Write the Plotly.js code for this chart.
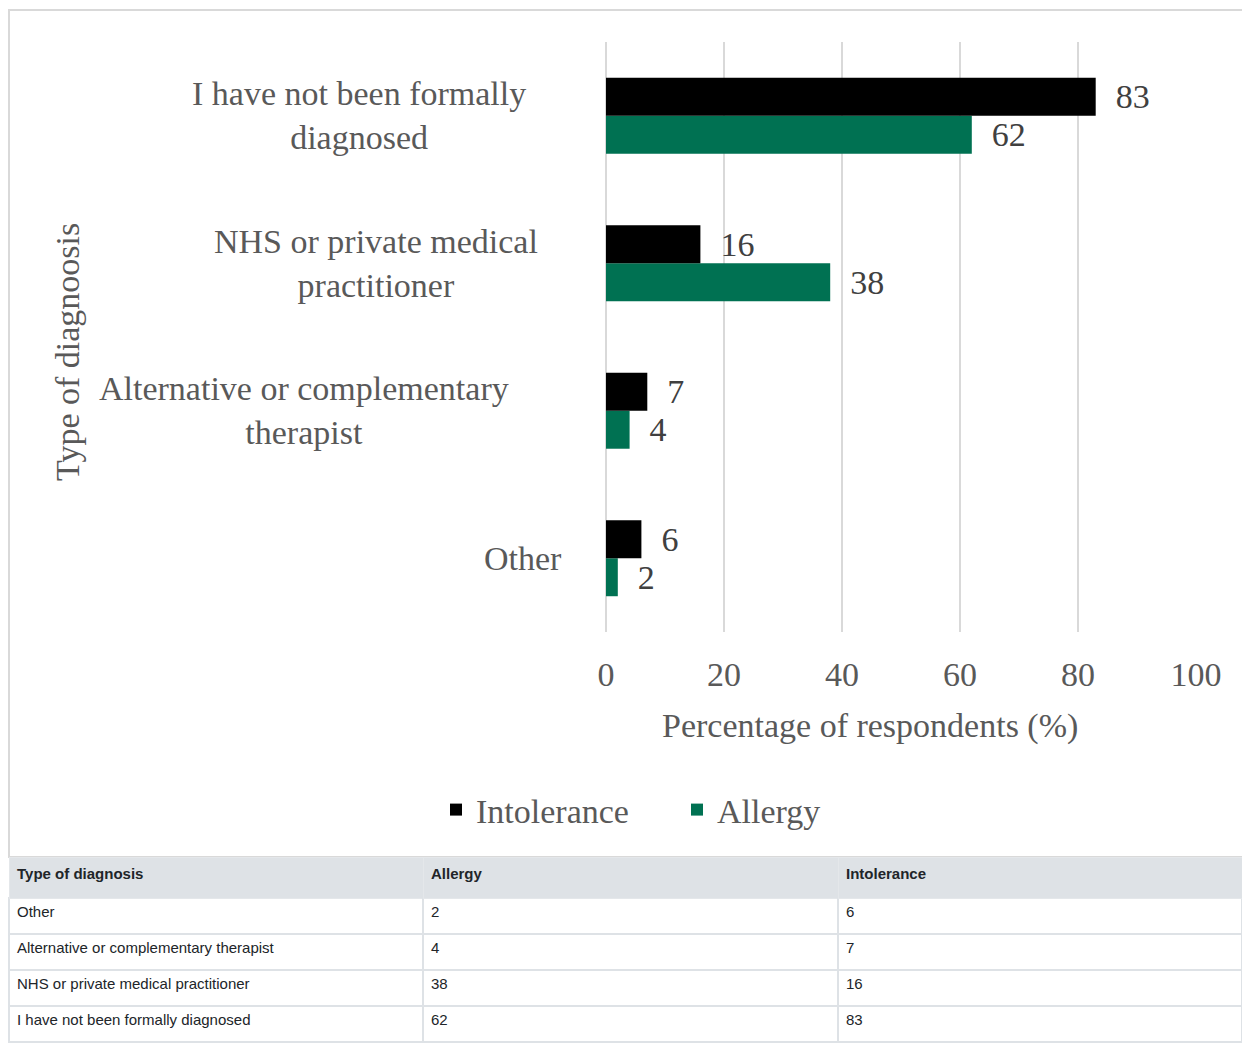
<!DOCTYPE html>
<html>
<head>
<meta charset="utf-8">
<script src="https://cdn.plot.ly/plotly-3.0.1.min.js"></script>
<style>
  html, body { margin: 0; padding: 0; background: #ffffff; }
  #chart { width: 1242px; height: 1043px; }
</style>
</head>
<body>
<div id="chart"></div>
<script>
// ---- data ----
const categories = [
  'Other',
  'Alternative or complementary therapist',
  'NHS or private medical practitioner',
  'I have not been formally diagnosed'
];
const categoryLabels = [
  'Other',
  'Alternative or complementary<br>therapist',
  'NHS or private medical<br>practitioner',
  'I have not been formally<br>diagnosed'
];
const allergy = [2, 4, 38, 62];
const intolerance = [6, 7, 16, 83];
const xTickValues = [0, 20, 40, 60, 80, 100];
const tableHeaders = ['Type of diagnosis', 'Allergy', 'Intolerance'];
const yAxisTitle = 'Type of diagnoosis';
const xAxisTitle = 'Percentage of respondents (%)';

// ---- layout helpers ----
const W = 1242, H = 1043;
const px = v => v / W;
const py = v => 1 - v / H;
const SERIF = '"Liberation Serif", "Times New Roman", serif';
const SANS = '"Liberation Sans", Arial, sans-serif';
const FS = 34;
const labelRight = [564, 511, 540, 528];

const traces = [
  {
    type: 'bar', orientation: 'h', name: 'Allergy',
    y: categories, x: allergy,
    marker: { color: '#007152' },
    texttemplate: '\u00a0\u00a0%{x}', textposition: 'outside',
    textfont: { family: SERIF, size: FS, color: '#404040' },
    constraintext: 'none', cliponaxis: false, legendrank: 2,
    hoverinfo: 'x+y'
  },
  {
    type: 'bar', orientation: 'h', name: 'Intolerance',
    y: categories, x: intolerance,
    marker: { color: '#000000' },
    texttemplate: '\u00a0\u00a0%{x}', textposition: 'outside',
    textfont: { family: SERIF, size: FS, color: '#404040' },
    constraintext: 'none', cliponaxis: false, legendrank: 1,
    hoverinfo: 'x+y'
  },
  {
    type: 'table',
    domain: { x: [px(9), 1], y: [0, py(857)] },
    columnwidth: [414, 415, 404],
    header: {
      values: tableHeaders.map(h => '<b>' + h + '</b>'),
      align: 'left',
      height: 41,
      fill: { color: '#dee2e6' },
      line: { color: '#e4e7ea', width: 1 },
      font: { family: SANS, size: 15, color: '#212529' }
    },
    cells: {
      values: [categories, allergy, intolerance],
      align: 'left',
      height: 36,
      fill: { color: '#ffffff' },
      line: { color: '#dee2e6', width: 2 },
      font: { family: SANS, size: 15, color: '#212529' }
    }
  }
];

const annotations = categories.map((c, i) => ({
  xref: 'paper', yref: 'y',
  x: px(labelRight[i]), y: c,
  xanchor: 'right', yanchor: 'middle', align: 'center',
  text: categoryLabels[i], showarrow: false,
  font: { family: SERIF, size: FS, color: '#595959' }
}));
annotations.push({
  xref: 'paper', yref: 'paper',
  x: px(67), y: py(352),
  xanchor: 'center', yanchor: 'middle', textangle: -90,
  text: yAxisTitle, showarrow: false,
  font: { family: SERIF, size: FS, color: '#595959' }
});
annotations.push({
  xref: 'paper', yref: 'paper',
  x: px(870), y: py(726),
  xanchor: 'center', yanchor: 'middle',
  text: xAxisTitle, showarrow: false,
  font: { family: SERIF, size: FS, color: '#595959' }
});

const layout = {
  width: W, height: H,
  margin: { l: 0, r: 0, t: 0, b: 0, pad: 0 },
  paper_bgcolor: '#ffffff', plot_bgcolor: '#ffffff',
  barmode: 'group', bargap: 0.485, bargroupgap: 0,
  showlegend: true,
  legend: {
    orientation: 'h', x: px(436), xanchor: 'left', y: py(810), yanchor: 'middle',
    font: { family: SERIF, size: FS, color: '#595959' },
    entrywidth: 196, entrywidthmode: 'pixels',
    traceorder: 'normal', itemclick: false, bgcolor: 'rgba(0,0,0,0)'
  },
  xaxis: {
    domain: [px(606), px(1196)],
    range: [0, 100], tickvals: xTickValues, ticks: '',
    showgrid: true, gridcolor: '#d9d9d9', gridwidth: 2,
    zeroline: true, zerolinecolor: '#d9d9d9', zerolinewidth: 2,
    showline: false, automargin: false,
    ticklabelstandoff: 19,
    tickfont: { family: SERIF, size: FS, color: '#595959' },
    fixedrange: true
  },
  yaxis: {
    domain: [py(632), py(42)],
    type: 'category', showticklabels: false, ticks: '',
    showgrid: false, zeroline: false, showline: false, automargin: false,
    fixedrange: true
  },
  annotations: annotations,
  shapes: [{
    type: 'rect', xref: 'paper', yref: 'paper',
    x0: px(9), x1: 1.01, y0: py(857), y1: py(10),
    line: { color: '#d9d9d9', width: 2 }, fillcolor: 'rgba(0,0,0,0)', layer: 'below'
  }],
  font: { family: SERIF }
};

Plotly.newPlot('chart', traces, layout, { displayModeBar: false, responsive: false });
</script>
</body>
</html>
